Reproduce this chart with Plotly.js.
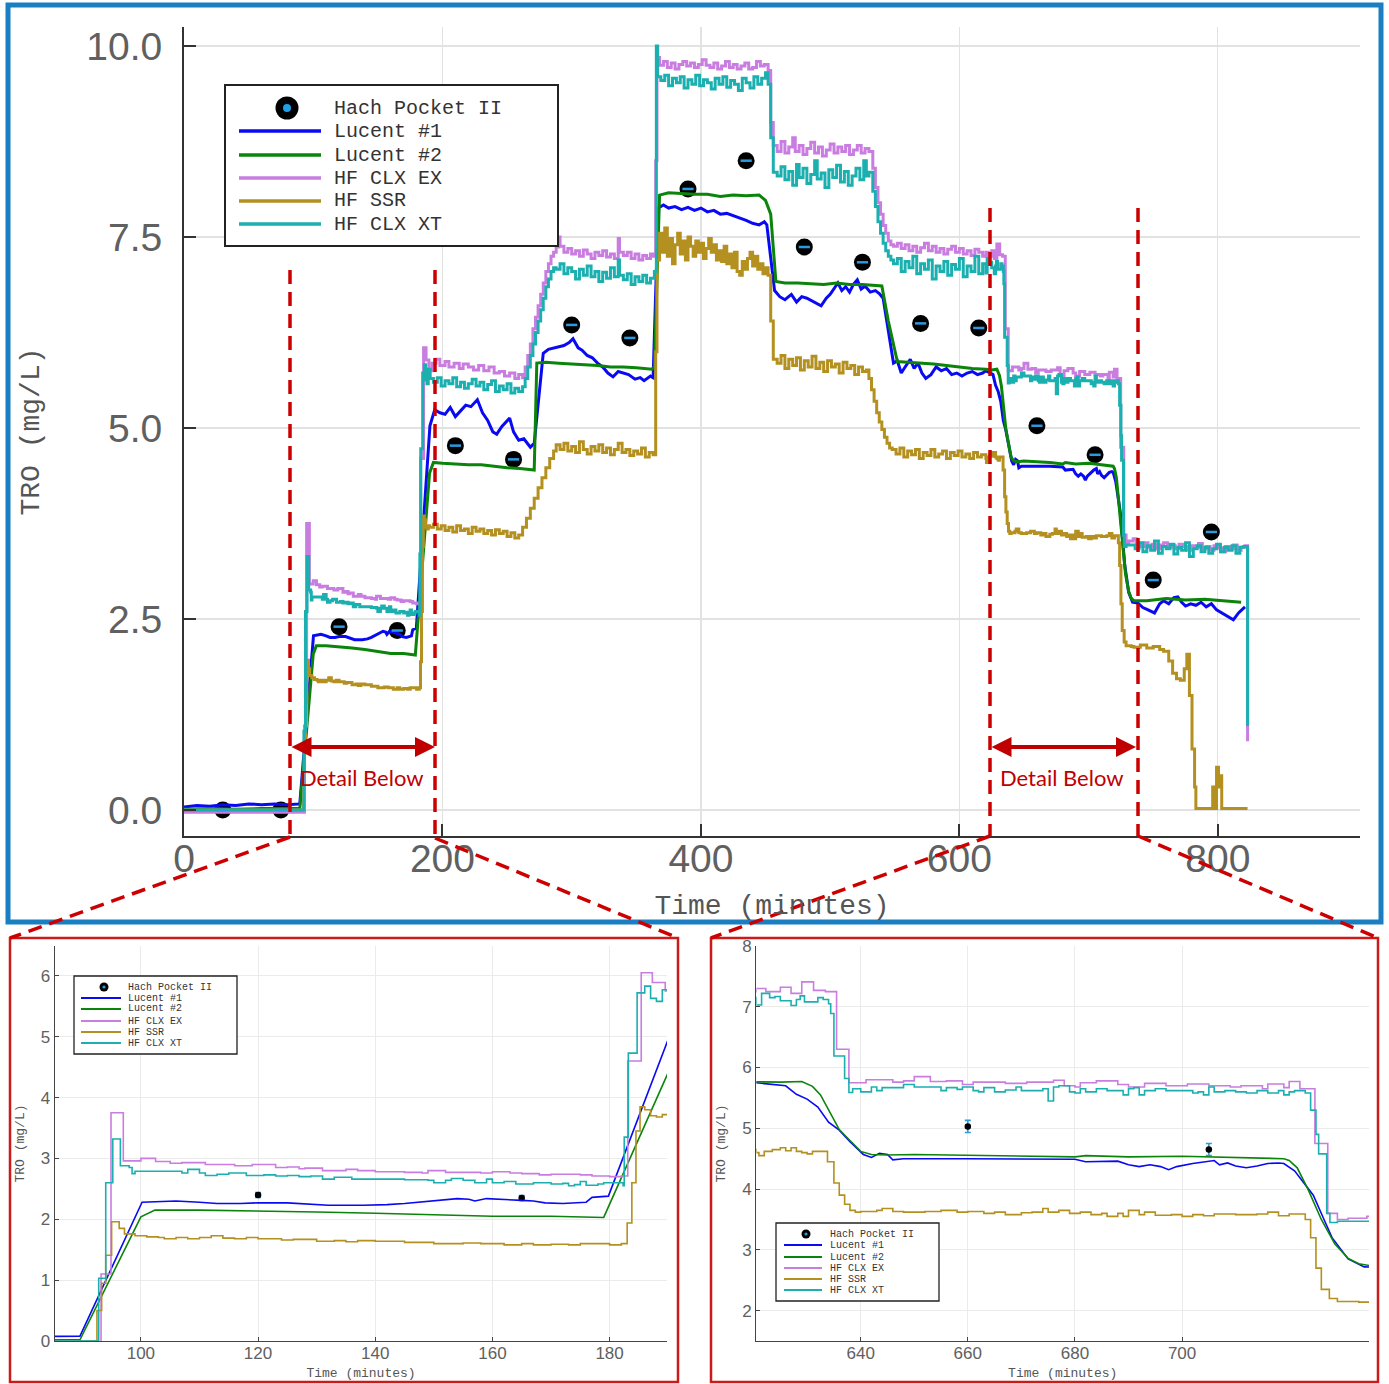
<!DOCTYPE html>
<html>
<head>
<meta charset="utf-8">
<script src="https://cdn.plot.ly/plotly-3.0.1.min.js"></script>
<style>html,body{margin:0;padding:0;background:#fff;}#chart{width:1389px;height:1384px;}</style>
</head>
<body>
<div id="chart"></div>
<script>
// ---------------- DATA ----------------
const seriesNames = ['Hach Pocket II', 'Lucent #1', 'Lucent #2', 'HF CLX EX', 'HF SSR', 'HF CLX XT'];

const hach_t = [30, 75, 120, 165, 210, 255, 300, 345, 390, 435, 480, 525, 570, 615, 660, 705, 750, 795];
const hach_v = [0.0, 0.0, 2.40, 2.35, 4.77, 4.59, 6.35, 6.18, 8.13, 8.50, 7.37, 7.17, 6.37, 6.31, 5.03, 4.65, 3.01, 3.64];
const hach_err = [0.02, 0.02, 0.04, 0.04, 0.06, 0.06, 0.06, 0.06, 0.08, 0.08, 0.08, 0.08, 0.08, 0.08, 0.10, 0.10, 0.08, 0.08];

const lucent1_t = [0,10,20,30,40,50,60,70,80,89.6,100.2,103,106,110,113,117,120,125,128,132,138,142,145,148,151,154,156,157,159,162,165,167,169,172,176,177,179.8,
 190.3,194,198,202,206,210,214,218,222,227,231,235,239,242,246,250,252,255,259,263,268,271,
 278,282,287,294,298,301,305,308,312,316,320,324,328,332,336,340,344,349,353,356,361,363,
 367,371,375,380,385,390,395,400,405,410,415,420,425,430,435,440,445,449,451,
 457,461,465,470,474,478,482,486,490,493,497,500,504,506,509,512,515,518,521,524,527,531,535,538,541,
 549,552,555,558,562,565,568,571,574,578,582,586,590,594,598,602,606,610,614,618,
 620.5,623,626,628,630,632,634,636,638,640.5,642,643.5,645,646,648,660,670,680,682,688,690,692,694,696,697.5,699,702,704,706,707,708.5,710,712,714,716,718,719,721,724.5,726.5,728,731,734,
 738,742,746,751,755,758,762,766,769,772,775,779,783,787,791,795,799,803,807,812,816,821];
const lucent1_v = [0.04,0.06,0.05,0.07,0.06,0.08,0.07,0.08,0.07,0.08,2.28,2.29,2.30,2.28,2.26,2.26,2.27,2.27,2.25,2.23,2.23,2.24,2.26,2.29,2.31,2.34,2.33,2.30,2.34,2.33,2.31,2.30,2.27,2.26,2.28,2.36,2.38,
 5.03,5.24,5.20,5.18,5.27,5.15,5.22,5.30,5.28,5.37,5.20,5.10,4.95,4.92,5.02,5.10,5.13,4.95,4.84,4.86,4.75,4.80,
 5.98,6.03,6.05,6.08,6.12,6.17,6.05,6.02,5.95,5.92,5.85,5.80,5.72,5.67,5.74,5.72,5.70,5.64,5.66,5.62,5.68,5.66,
 7.88,7.92,7.88,7.90,7.86,7.89,7.85,7.88,7.83,7.85,7.80,7.81,7.78,7.76,7.72,7.68,7.66,7.70,7.66,
 6.80,6.72,6.68,6.75,6.65,6.72,6.70,6.66,6.62,6.60,6.70,6.75,6.85,6.90,6.80,6.85,6.78,6.88,6.94,6.82,6.86,6.78,6.80,6.76,6.70,
 5.85,5.88,5.72,5.80,5.90,5.78,5.85,5.72,5.65,5.70,5.80,5.75,5.78,5.70,5.72,5.68,5.72,5.74,5.70,5.72,
 5.75,5.73,5.70,5.56,5.48,5.35,5.10,4.97,4.78,4.57,4.52,4.59,4.57,4.48,4.50,4.50,4.50,4.49,4.45,4.46,4.40,4.37,4.40,4.37,4.32,4.37,4.42,4.45,4.47,4.40,4.43,4.38,4.35,4.38,4.42,4.43,4.42,4.30,3.90,3.50,3.20,2.85,2.72,
 2.71,2.65,2.62,2.58,2.70,2.74,2.70,2.78,2.79,2.72,2.67,2.70,2.68,2.72,2.66,2.70,2.62,2.58,2.55,2.49,2.58,2.66];

const lucent2_t = [0,20,40,60,80,89.6,100,102.4,110,120,130,140,150,160,170,179,190,193,200,210,220,230,240,250,260,268,271,
 273,280,290,300,310,320,330,340,350,362,364,368,375,385,395,405,415,425,435,445,450,454,
 458,465,475,485,495,505,515,525,535,540,545,552,560,570,580,590,600,610,
 620.5,625,629,631,632.5,634,636,638,640,642,645,650,660,670,680,682,690,700,705,710,717,719,720,721.5,723.5,726,728.5,731,733,735,
 745,760,775,790,805,818];
const lucent2_v = [0.01,0.02,0.01,0.02,0.02,0.02,2.04,2.15,2.15,2.14,2.12,2.10,2.07,2.05,2.05,2.03,4.41,4.55,4.54,4.53,4.52,4.52,4.50,4.48,4.47,4.45,4.45,
 5.85,5.86,5.85,5.84,5.83,5.82,5.80,5.80,5.79,5.77,5.80,8.05,8.08,8.07,8.06,8.06,8.03,8.05,8.04,8.05,7.98,7.80,
 6.92,6.90,6.90,6.89,6.88,6.90,6.88,6.88,6.87,6.86,6.40,5.87,5.86,5.85,5.84,5.82,5.80,5.78,
 5.77,5.76,5.77,5.69,5.55,5.30,4.98,4.80,4.62,4.57,4.56,4.57,4.56,4.55,4.53,4.55,4.53,4.54,4.53,4.52,4.50,4.50,4.47,4.35,4.00,3.50,3.10,2.86,2.77,2.74,
 2.74,2.77,2.75,2.76,2.74,2.72];

const clxex_t = [0,93.2,94.9,97,100,102.5,105,107,111,116,119,123,125,127,128,131,135,137,140,145,148,149,152,158,160,163,165,168,170,175,177,180,182,
 183.1,185.4,187.3,189.5,192,195,198,202,205,209,213,216,220,224,228,232,236,240,244,248,252,256,259,262,
 264,266,268,270,272,274,276,278,280,282,284,286,288,
 290,291,294,297,300,303,306,309,312,315,318,321,324,327,330,333,336,337,340,343,346,349,352,355,358,361,363,
 365,366,368,371,374,377,380,383,386,389,392,395,398,401,404,407,410,413,416,419,422,425,428,431,434,437,440,443,446,449,452,
 454,456,459,462,465,468,471,473,476,479,482,485,488,491,494,497,500,503,506,509,512,515,518,521,524,527,530,
 533,535,537,539,541,543,545,547,
 549,552,555,558,561,564,567,570,573,576,579,582,585,588,591,594,597,600,603,606,609,612,615,618,
 620.5,622.3,625,627,629,631.2,633.4,635.5,637.8,641,646,648,650,653,656,659,661,667,671,676,678,680,681,684,688,690,693,697,701,705,709,711,715,716,719,720,722,724.8,727.2,729,731,734.5,
 737,740,743,746,749,752,755,758,761,764,767,770,773,776,779,782,785,788,791,794,797,800,803,806,809,812,815,818,821,823];
const clxex_v = [-0.03,1.10,3.75,2.96,3.00,2.95,2.92,2.93,2.90,2.88,2.90,2.85,2.86,2.83,2.84,2.80,2.82,2.80,2.78,2.77,2.76,2.80,2.77,2.76,2.78,2.76,2.75,2.73,2.74,2.73,2.71,2.70,2.71,
 4.60,6.05,5.89,5.75,5.85,5.90,5.82,5.87,5.80,5.85,5.78,5.84,5.80,5.76,5.82,5.75,5.80,5.72,5.74,5.68,5.72,5.65,5.70,5.66,
 5.80,5.95,6.10,6.30,6.45,6.60,6.75,6.90,7.05,7.15,7.25,7.30,7.37,
 7.50,7.38,7.30,7.35,7.28,7.32,7.25,7.33,7.28,7.22,7.30,7.26,7.32,7.24,7.28,7.22,7.48,7.30,7.26,7.30,7.22,7.28,7.20,7.26,7.22,7.28,7.25,
 8.50,9.85,9.75,9.80,9.72,9.78,9.70,9.76,9.80,9.74,9.78,9.72,9.76,9.82,9.75,9.72,9.78,9.70,9.74,9.80,9.72,9.76,9.70,9.74,9.78,9.70,9.72,9.80,9.74,9.76,9.68,
 9.00,8.70,8.62,8.75,8.60,8.68,8.80,8.62,8.70,8.58,8.66,8.74,8.60,8.68,8.56,8.64,8.72,8.60,8.68,8.62,8.70,8.58,8.64,8.70,8.60,8.66,8.62,
 8.40,8.15,7.95,7.80,7.65,7.55,7.45,7.40,
 7.38,7.42,7.35,7.40,7.32,7.38,7.30,7.36,7.42,7.32,7.38,7.30,7.35,7.28,7.34,7.38,7.30,7.35,7.28,7.32,7.26,7.34,7.30,7.25,
 7.30,7.25,7.32,7.22,7.41,7.27,7.25,6.30,5.75,5.80,5.76,5.78,5.85,5.77,5.78,5.72,5.76,5.74,5.76,5.79,5.70,5.68,5.75,5.78,5.72,5.68,5.74,5.70,5.73,5.70,5.68,5.70,5.65,5.73,5.67,5.77,5.65,4.75,3.60,3.50,3.52,3.55,
 3.48,3.45,3.50,3.44,3.48,3.42,3.47,3.50,3.44,3.46,3.42,3.48,3.45,3.40,3.46,3.44,3.49,3.42,3.45,3.40,3.46,3.43,3.38,3.45,3.42,3.47,3.40,3.44,3.46,0.90];

const ssr_t = [0,92.5,93.3,94,95,96.3,97.2,99,101,103,104,106,108,110,112,114,116,118,120,124,126,130,133,135,137,140,145,150,155,158,162,165,167,170,173,175,180,182,
 183,183.8,184.5,185.2,186,187,188,189,190,193,196,199,202,205,208,211,214,217,220,223,226,229,232,235,238,241,244,247,250,253,256,259,
 262,265,268,271,274,277,280,283,286,
 288,291,294,297,300,303,306,309,312,315,318,321,324,327,330,333,336,339,342,345,348,351,354,357,360,363,
 365,366,368,370,372,374,376,378,380,382,384,386,388,390,392,394,396,398,400,402,404,406,408,410,412,414,416,418,420,422,424,426,428,430,432,434,436,438,440,442,444,446,448,450,452,
 454,456,459,462,465,468,471,474,477,480,483,486,489,492,495,498,501,504,507,510,513,516,519,522,525,528,
 530,532,534,536,538,540,542,544,546,
 548,551,554,557,560,563,566,569,572,575,578,581,584,587,590,593,596,599,602,605,608,611,614,617,
 620.5,621,622,623.5,625,626,627,628,629,630,631,633.8,635,636,637,638,639,640,643,644,646,648,652,655,658,660,663,665,667,670,672,674,675,677,679,681,683,685,686,688,689,690,692,693,695,698,700,702,704,706,710,714,716,718,720,722,723,724,725,726,727.5,729,733,735,
 740,745,750,755,758,762,765,768,771,774,776,778,780,782,783,795,796,797,799,800.5,802,803,823];
const ssr_v = [0.00,0.50,0.95,1.41,1.96,1.85,1.76,1.73,1.71,1.70,1.68,1.70,1.68,1.70,1.73,1.69,1.68,1.70,1.68,1.66,1.67,1.64,1.65,1.63,1.65,1.64,1.62,1.60,1.61,1.60,1.58,1.60,1.58,1.59,1.58,1.60,1.58,1.60,
 1.94,2.60,3.45,3.85,3.80,3.70,3.68,3.72,3.70,3.74,3.68,3.72,3.66,3.70,3.64,3.72,3.66,3.68,3.62,3.70,3.65,3.68,3.62,3.66,3.60,3.67,3.62,3.65,3.58,3.63,3.56,3.60,
 3.70,3.82,3.95,4.08,4.22,4.35,4.48,4.60,4.70,
 4.78,4.72,4.80,4.70,4.76,4.68,4.82,4.72,4.66,4.76,4.70,4.78,4.68,4.74,4.65,4.72,4.80,4.68,4.72,4.64,4.70,4.66,4.74,4.62,4.68,4.65,
 6.00,7.20,7.55,7.30,7.62,7.25,7.48,7.15,7.40,7.55,7.28,7.45,7.20,7.50,7.38,7.25,7.45,7.30,7.42,7.22,7.35,7.48,7.30,7.40,7.20,7.32,7.18,7.38,7.15,7.28,7.10,7.30,7.05,7.00,7.18,7.08,7.22,7.30,7.12,7.25,7.08,7.15,7.02,7.10,7.00,
 6.40,5.90,5.85,5.95,5.78,5.90,5.82,5.92,5.76,5.88,5.80,5.94,5.78,5.86,5.74,5.88,5.80,5.84,5.72,5.86,5.78,5.82,5.70,5.80,5.74,5.76,
 5.65,5.50,5.35,5.20,5.08,4.98,4.88,4.80,4.74,
 4.72,4.66,4.74,4.62,4.70,4.65,4.72,4.60,4.68,4.64,4.72,4.62,4.66,4.70,4.60,4.68,4.64,4.70,4.62,4.66,4.60,4.68,4.62,4.65,
 4.60,4.55,4.62,4.65,4.68,4.63,4.68,4.62,4.60,4.58,4.62,4.45,4.10,3.90,3.75,3.65,3.62,3.63,3.65,3.68,3.63,3.62,3.63,3.65,3.62,3.63,3.60,3.62,3.58,3.61,3.62,3.68,3.62,3.65,3.60,3.62,3.58,3.60,3.55,3.60,3.55,3.65,3.58,3.62,3.57,3.58,3.55,3.58,3.56,3.59,3.58,3.59,3.62,3.56,3.59,3.59,3.50,3.20,2.70,2.35,2.20,2.15,2.14,2.13,
 2.16,2.12,2.14,2.10,2.08,1.95,1.79,1.72,1.70,1.85,2.04,1.50,0.80,0.30,0.02,0.02,0.30,0.02,0.56,0.30,0.45,0.02,0.02];

const clxxt_t = [0,92.8,94,95.2,96.5,98,98.5,99,105,107,108,110,111,113,115,118,121,123,125,127,129,131,133,136,145,149,150,152,153,155,157,159,160,162,164,167,170,172,173,174,175,176,178,179,182.3,
 182.5,183.2,184.7,186,187,188,189,190.5,193,196,199,202,205,208,211,214,217,220,223,226,229,232,235,238,241,244,247,250,253,256,259,262,
 264,266,268,270,272,274,276,278,280,282,284,286,
 288,291,294,297,300,303,306,309,312,315,318,321,324,327,330,333,336,337,340,343,346,349,352,355,358,361,364,
 365.5,366.5,369,372,375,378,381,384,387,390,393,396,399,402,405,408,411,414,417,420,423,426,429,432,435,438,441,444,447,450,452,
 454,456,459,462,465,468,471,474,476,479,482,485,488,490,493,496,499,502,505,508,511,514,517,520,523,526,528,530,
 533,535,537,539,541,543,545,547,
 549,552,555,558,561,564,567,570,573,576,579,582,585,588,591,594,597,600,603,606,609,612,615,618,
 620.5,621.5,623,624,625,627,628,628.7,629.5,632,633,634,634.4,635,637,637.8,638.5,640,642,643,644,648,650,655,656,658,659,661,662,663,665,667,669,670,674,675,676,677,679,680,681,682,684,686,689,690,691,692,693,695,697,702,703,704,705,706,708,710,712,714,716,718,719,720,721,723,724,725,725.5,727,727.6,729,733,
 736,739,742,745,748,751,754,757,760,763,766,769,772,775,778,781,784,787,790,793,796,799,802,805,808,811,814,817,820,823];
const clxxt_v = [0.00,1.03,2.60,3.32,2.88,2.85,2.75,2.79,2.79,2.76,2.82,2.76,2.72,2.74,2.76,2.72,2.73,2.71,2.72,2.70,2.71,2.66,2.69,2.66,2.65,2.64,2.60,2.64,2.67,2.64,2.60,2.66,2.60,2.62,2.58,2.60,2.58,2.59,2.55,2.57,2.62,2.56,2.58,2.60,2.55,
 3.35,4.73,5.72,5.83,5.63,5.58,5.77,5.65,5.60,5.66,5.55,5.62,5.58,5.66,5.54,5.60,5.52,5.58,5.64,5.55,5.60,5.50,5.57,5.62,5.48,5.55,5.50,5.58,5.46,5.52,5.48,5.54,
 5.65,5.80,5.95,6.10,6.25,6.40,6.55,6.70,6.85,6.95,7.05,7.10,
 7.08,7.15,7.02,7.10,7.05,6.95,7.08,7.00,7.12,6.98,7.05,6.92,7.04,6.96,7.10,6.98,7.20,7.00,6.94,7.02,6.88,6.98,6.92,7.00,6.90,6.96,7.05,
 10.00,9.60,9.55,9.62,9.48,9.58,9.52,9.60,9.45,9.56,9.50,9.62,9.48,9.56,9.52,9.44,9.58,9.50,9.60,9.46,9.55,9.50,9.42,9.58,9.52,9.45,9.60,9.50,9.58,9.65,9.50,
 8.80,8.35,8.30,8.42,8.25,8.36,8.18,8.45,8.28,8.40,8.20,8.32,8.50,8.26,8.34,8.15,8.38,8.28,8.44,8.22,8.36,8.18,8.30,8.40,8.25,8.50,8.30,8.35,
 8.10,7.90,7.70,7.55,7.42,7.32,7.25,7.20,
 7.15,7.22,7.05,7.18,7.10,7.25,7.02,7.15,7.08,7.20,6.95,7.12,7.05,7.18,7.00,7.14,7.08,7.22,6.98,7.12,7.05,7.25,7.02,7.15,
 7.03,7.22,7.15,7.17,7.10,7.02,7.12,7.18,7.08,7.15,7.12,7.05,6.89,6.19,5.82,5.59,5.65,5.60,5.68,5.62,5.67,5.72,5.68,5.62,5.67,5.64,5.68,5.62,5.60,5.67,5.60,5.63,5.68,5.62,5.65,5.45,5.68,5.70,5.60,5.58,5.65,5.60,5.65,5.62,5.55,5.65,5.67,5.55,5.62,5.65,5.62,5.58,5.60,5.55,5.68,5.60,5.62,5.60,5.58,5.62,5.58,5.62,5.55,5.60,5.62,5.58,5.30,4.90,4.58,3.60,3.45,3.47,3.47,
 3.42,3.50,3.38,3.46,3.40,3.52,3.36,3.45,3.42,3.48,3.35,3.44,3.40,3.50,3.32,3.42,3.46,3.38,3.44,3.36,3.42,3.48,3.38,3.44,3.40,3.46,3.36,3.44,3.45,1.10];

const mainXTicks = [0, 200, 400, 600, 800];
const mainYTicks = [0, 2.5, 5, 7.5, 10];
const mainYTickLabels = ['0.0', '2.5', '5.0', '7.5', '10.0'];
const leftXTicks = [100, 120, 140, 160, 180];
const leftYTicks = [0, 1, 2, 3, 4, 5, 6];
const rightXTicks = [640, 660, 680, 700];
const rightYTicks = [2, 3, 4, 5, 6, 7, 8];
const detailLabel = 'Detail Below';
const xTitle = 'Time (minutes)';
const yTitle = 'TRO (mg/L)';

// ---------------- STYLE ----------------
const W = 1389, H = 1384;
const PX = v => v / W;
const PY = v => 1 - v / H;
const colors = { l1: '#0a0af2', l2: '#0b840b', ex: '#c97de0', ssr: '#b3901f', xt: '#1cafb0' };
const lineSeries = [
  { t: lucent1_t, v: lucent1_v, c: colors.l1, shape: 'linear' },
  { t: lucent2_t, v: lucent2_v, c: colors.l2, shape: 'linear' },
  { t: clxex_t, v: clxex_v, c: colors.ex, shape: 'hv' },
  { t: ssr_t, v: ssr_v, c: colors.ssr, shape: 'hv' },
  { t: clxxt_t, v: clxxt_v, c: colors.xt, shape: 'hv' }
];
const panels = [
  { xa: 'x', ya: 'y', lw: 3, ms: 17, big: true },
  { xa: 'x2', ya: 'y2', lw: 1.6, ms: 6.5, big: false },
  { xa: 'x3', ya: 'y3', lw: 1.6, ms: 6.5, big: false }
];

const traces = [];
panels.forEach(p => {
  traces.push({
    type: 'scatter', mode: 'markers', x: hach_t, y: hach_v, xaxis: p.xa, yaxis: p.ya,
    name: seriesNames[0], showlegend: false, hoverinfo: 'x+y',
    marker: { color: '#000', size: p.ms, symbol: 'circle' },
    error_y: p.big ? { visible: false } : { type: 'data', array: hach_err, visible: true, color: '#2a9be0', thickness: 1.6, width: 3 }
  });
  lineSeries.forEach((s, i) => {
    traces.push({
      type: 'scatter', mode: 'lines', x: s.t, y: s.v, xaxis: p.xa, yaxis: p.ya,
      name: seriesNames[i + 1], showlegend: false, hoverinfo: 'x+y',
      line: { color: s.c, width: p.lw, shape: s.shape }
    });
  });
  if (p.big) {
    traces.push({
      type: 'scatter', mode: 'markers', x: hach_t, y: hach_v, xaxis: p.xa, yaxis: p.ya,
      showlegend: false, hoverinfo: 'skip',
      marker: { symbol: 'line-ew-open', size: 8, color: '#2a9be0', line: { color: '#2a9be0', width: 2.5 } }
    });
  }
});

const tickFontBig = { family: 'Liberation Sans, Arial, sans-serif', size: 39, color: '#606060' };
const tickFontSmall = { family: 'Liberation Sans, Arial, sans-serif', size: 17, color: '#606060' };
const titleFontBig = { family: 'Liberation Mono, DejaVu Sans Mono, monospace', size: 28, color: '#555' };
const titleFontSmall = { family: 'Liberation Mono, DejaVu Sans Mono, monospace', size: 13, color: '#555' };

function axisBase(big) {
  return {
    showgrid: true, gridcolor: big ? '#e2e2e2' : '#ebebeb', gridwidth: big ? 1.3 : 1,
    showline: true, linecolor: big ? '#333' : '#444', linewidth: big ? 2 : 1.3,
    ticks: 'inside', ticklen: big ? 12 : 4, tickwidth: big ? 2 : 1, tickcolor: big ? '#333' : '#444',
    zeroline: false, fixedrange: true, mirror: false,
    tickfont: big ? tickFontBig : tickFontSmall
  };
}

const layout = {
  width: W, height: H, margin: { l: 0, r: 0, t: 0, b: 0 },
  paper_bgcolor: '#fff', plot_bgcolor: '#fff', showlegend: false,
  xaxis: Object.assign(axisBase(true), {
    domain: [PX(184), PX(1360)], range: [0, 910], anchor: 'y', tickmode: 'array', tickvals: mainXTicks,
    ticklabelstandoff: -13,
    title: { text: xTitle, font: titleFontBig, standoff: 16 }
  }),
  yaxis: Object.assign(axisBase(true), {
    domain: [PY(836), PY(27)], range: [-0.34, 10.25], anchor: 'x', tickmode: 'array', tickvals: mainYTicks, ticktext: mainYTickLabels,
    ticklabelstandoff: 12,
    title: { text: yTitle, font: titleFontBig, standoff: 38 }
  }),
  xaxis2: Object.assign(axisBase(false), {
    domain: [PX(55), PX(667)], range: [85.34, 189.8], anchor: 'y2', tickmode: 'array', tickvals: leftXTicks,
    ticklabelstandoff: -4,
    title: { text: xTitle, font: titleFontSmall, standoff: 6 }
  }),
  yaxis2: Object.assign(axisBase(false), {
    domain: [PY(1341), PY(946)], range: [0, 6.49], anchor: 'x2', tickmode: 'array', tickvals: leftYTicks,
    title: { text: yTitle, font: titleFontSmall, standoff: 13 }
  }),
  xaxis3: Object.assign(axisBase(false), {
    domain: [PX(756.4), PX(1369)], range: [620.53, 734.9], anchor: 'y3', tickmode: 'array', tickvals: rightXTicks,
    ticklabelstandoff: -4,
    title: { text: xTitle, font: titleFontSmall, standoff: 6 }
  }),
  yaxis3: Object.assign(axisBase(false), {
    domain: [PY(1341), PY(946)], range: [1.5, 8.0], anchor: 'x3', tickmode: 'array', tickvals: rightYTicks,
    title: { text: yTitle, font: titleFontSmall, standoff: 13 }
  }),
  shapes: [],
  annotations: []
};

const S = layout.shapes, A = layout.annotations;
function pline(x0, y0, x1, y1, color, width, dash) {
  S.push({ type: 'line', xref: 'paper', yref: 'paper', x0: PX(x0), y0: PY(y0), x1: PX(x1), y1: PY(y1),
    line: { color: color, width: width, dash: dash || 'solid' }, layer: 'above' });
}
function prect(x0, y0, x1, y1, color, width, fill) {
  S.push({ type: 'rect', xref: 'paper', yref: 'paper', x0: PX(x0), y0: PY(y0), x1: PX(x1), y1: PY(y1),
    line: { color: color, width: width }, fillcolor: fill || 'rgba(0,0,0,0)', layer: 'above' });
}
function pcircle(cx, cy, r, color) {
  S.push({ type: 'circle', xref: 'paper', yref: 'paper', x0: PX(cx - r), y0: PY(cy + r), x1: PX(cx + r), y1: PY(cy - r),
    line: { width: 0 }, fillcolor: color, layer: 'above' });
}

// Frames
prect(8, 5, 1381, 922, '#1a7fc2', 5);
prect(10, 938, 678, 1382, '#cc1a1a', 2.5);
prect(711, 938, 1378, 1382, '#cc1a1a', 2.5);

// Dashed guides and connectors
const red = '#cc0000';
const dashPat = '14px,8px';
pline(290, 270, 290, 836, red, 3.5, dashPat);
pline(435, 270, 435, 838, red, 3.5, dashPat);
pline(990, 208, 990, 836, red, 3.5, dashPat);
pline(1138, 208, 1138, 836, red, 3.5, dashPat);
pline(290, 837, 10, 938, red, 3.5, dashPat);
pline(435, 838, 678, 938, red, 3.5, dashPat);
pline(990, 836, 711, 938, red, 3.5, dashPat);
pline(1138, 836, 1378, 938, red, 3.5, dashPat);

// Double-headed arrows + labels
[[290, 435, 362], [990, 1136, 1062]].forEach(a => {
  A.push({ xref: 'paper', yref: 'paper', x: PX(a[1]), y: PY(747), ax: -(a[1] - a[0]), ay: 0,
    axref: 'pixel', ayref: 'pixel', text: '', showarrow: true, arrowhead: 2, startarrowhead: 2,
    arrowside: 'end+start', arrowsize: 1, startarrowsize: 1, arrowwidth: 4, arrowcolor: '#c00000', standoff: 0, startstandoff: 0 });
  A.push({ xref: 'paper', yref: 'paper', x: PX(a[2]), y: PY(777), text: detailLabel, showarrow: false,
    xanchor: 'center', yanchor: 'middle', font: { family: 'Lato, Open Sans, sans-serif', size: 22, color: '#c00000' } });
});

// Legends (drawn in paper space)
const legendColors = [null, colors.l1, colors.l2, colors.ex, colors.ssr, colors.xt];
function drawLegend(box, rows, mx, mr, dr, lx0, lx1, lw, tx, fs) {
  prect(box[0], box[1], box[2], box[3], '#222', fs > 15 ? 2 : 1.3, '#fff');
  pcircle(mx, rows[0], mr, '#000');
  pcircle(mx, rows[0], dr, '#1f9fe8');
  for (let i = 1; i < 6; i++) pline(lx0, rows[i], lx1, rows[i], legendColors[i], lw);
  for (let i = 0; i < 6; i++) {
    A.push({ xref: 'paper', yref: 'paper', x: PX(tx), y: PY(rows[i]), text: seriesNames[i], showarrow: false,
      xanchor: 'left', yanchor: 'middle', font: { family: 'Liberation Mono, DejaVu Sans Mono, monospace', size: fs, color: '#333' } });
  }
}
drawLegend([225, 85, 558, 246], [108, 131, 155, 178, 201, 224], 287, 11.5, 4, 239, 321, 3.5, 332, 20);
drawLegend([74, 976, 237, 1054], [987, 998, 1009, 1021, 1032, 1043], 104, 4.5, 1.6, 81, 121, 1.8, 126, 10);
drawLegend([776, 1223, 939, 1301], [1234, 1245, 1257, 1268, 1279, 1290], 806, 4.5, 1.6, 784, 822, 1.8, 828, 10);

Plotly.newPlot('chart', traces, layout, { displayModeBar: false, staticPlot: true });
</script>
</body>
</html>
